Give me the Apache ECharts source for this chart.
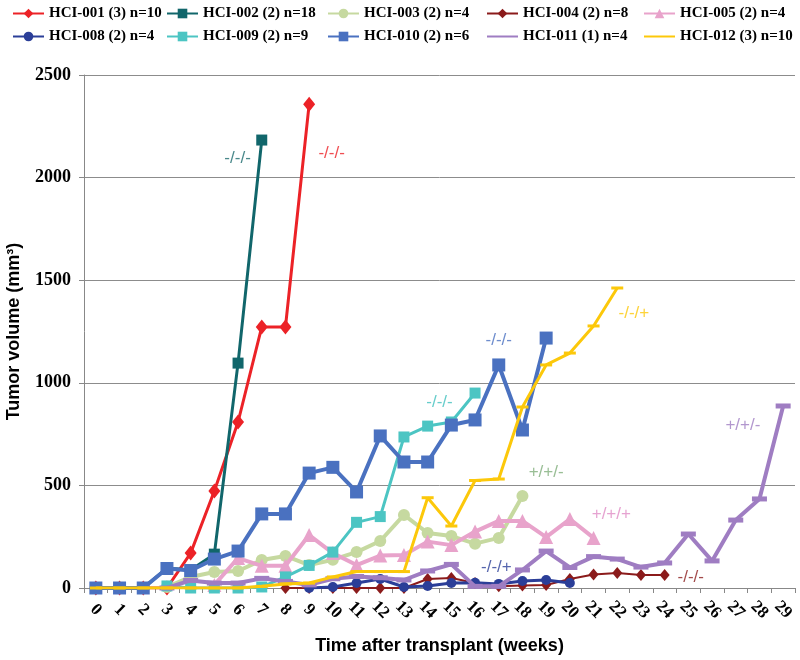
<!DOCTYPE html>
<html>
<head>
<meta charset="utf-8">
<script src="https://cdn.jsdelivr.net/npm/echarts@6/dist/echarts.min.js"></script>
<style>html,body{margin:0;padding:0;background:#fff}#c{width:800px;height:660px}</style>
</head>
<body>
<div id="c"></div>
<script>
var weeks = [];
for (var w = 0; w <= 29; w++) weeks.push(String(w));

var seriesNames = ['HCI-001 (3) n=10','HCI-002 (2) n=18','HCI-003 (2) n=4','HCI-004 (2) n=8','HCI-005 (2) n=4',
                   'HCI-008 (2) n=4','HCI-009 (2) n=9','HCI-010 (2) n=6','HCI-011 (1) n=4','HCI-012 (3) n=10'];

// values indexed by week (0..29), null = no measurement
var hci001 = [0,0,0,0,170,473,809,1272,1272,2358];
var hci002 = [0,0,0,97,88,165,1096,2183];
var hci003 = [null,null,null,5,54,78,83,136,156,112,138,175,229,356,268,253,216,244,448];
var hci004 = [null,null,null,null,null,null,null,null,0,0,0,0,0,0,44,49,24,8,12,15,44,66,73,63,63];
var hci005 = [null,null,null,null,null,15,146,108,108,258,170,112,158,161,226,209,275,327,327,248,336,244];
var hci008 = [null,null,null,null,null,null,null,null,null,0,5,24,44,5,10,24,26,20,34,39,24];
var hci009 = [null,null,null,10,0,0,0,5,54,110,175,320,348,736,789,809,950];
var hci010 = [0,0,0,95,85,141,180,361,361,560,588,468,741,614,614,794,819,1087,770,1218];
var hci011 = [null,null,null,0,37,24,24,47,32,15,45,56,50,39,83,115,8,8,88,180,100,153,141,102,122,263,132,331,434,887];
var hci012 = [0,0,0,0,0,0,0,8,20,24,54,80,80,80,440,302,524,531,882,1087,1145,1277,1462];

var seriesValues = [hci001,hci002,hci003,hci004,hci005,hci008,hci009,hci010,hci011,hci012];

var yTicks = [0,500,1000,1500,2000,2500];

// receptor-status annotations: text, week position, volume position
var annoTexts = ['-/-/-','-/-/-','-/-/-','-/-/-','+/+/-','+/+/+','-/-/+','-/-/-','-/-/+','+/+/-'];
var annoWeeks = [5.98, 9.95, 17.0, 14.5, 19.0, 21.75, 16.9, 25.1, 22.7, 27.3];
var annoVols  = [2095, 2120, 1208, 906, 565, 361, 102, 54, 1340, 794];

// styles
var colors = ['#ec2227','#11666b','#c6d9a0','#8b1b1b','#e8a3cb','#2b3e98','#4cc5c3','#4a71c0','#9f7dc2','#fcc80a'];
var symbols = ['diamond','rect','circle','diamond','triangle','circle','rect','rect','rect','rect'];
var symbolSizes = [[12,15],11,12,[10,12],14,10,11,13,[15,5],[12,3]];
var lineWidths = [3,3,4,2,4,3,3,4,4,3];
var hideLegendSymbol = [false,false,false,false,false,false,false,false,true,true];
var annoColors = ['#1d6b6e','#ec2227','#4a71c0','#40c0be','#7fae7a','#e08cc6','#2b3e98','#8b1b1b','#fcc80a','#9f7dc2'];

var series = seriesNames.map(function(n, i){
  return {
    name: n, type: 'line', xAxisIndex: 0, yAxisIndex: 0,
    data: seriesValues[i],
    symbol: symbols[i], symbolSize: symbolSizes[i], showAllSymbol: true,
    lineStyle: {color: colors[i], width: lineWidths[i]},
    itemStyle: {color: colors[i]},
    connectNulls: false, z: 2 + i
  };
});

series.push({
  type: 'scatter', xAxisIndex: 1, yAxisIndex: 0, symbolSize: 0, silent: true,
  data: annoTexts.map(function(t, i){
    return {value: [annoWeeks[i], annoVols[i]],
      label: {show: true, position: 'inside', formatter: t, color: annoColors[i],
              fontFamily: 'Liberation Sans', fontSize: 17}};
  }),
  z: 20
});

function legendItem(i){
  var it = {name: seriesNames[i]};
  if (hideLegendSymbol[i]) it.itemStyle = {opacity: 0};
  return it;
}

var legendLefts = [7, 161, 322, 481, 638];
var legends = legendLefts.map(function(l, c){
  return {
    orient: 'vertical', left: l, top: 1, itemGap: 8,
    itemWidth: 31, itemHeight: 12,
    data: [legendItem(c), legendItem(c+5)],
    textStyle: {fontFamily: 'Liberation Serif', fontWeight: 'bold', fontSize: 15, color: '#000'},
    selectedMode: false
  };
});

var chart = echarts.init(document.getElementById('c'));
chart.setOption({
  animation: false,
  backgroundColor: '#fff',
  legend: legends,
  grid: {left: 84, right: 5, top: 75, bottom: 72, containLabel: false, outerBoundsMode: 'none'},
  xAxis: [{
    type: 'category', data: weeks, boundaryGap: true,
    name: 'Time after transplant (weeks)', nameLocation: 'middle', nameGap: 49,
    nameTextStyle: {fontFamily: 'Liberation Sans', fontWeight: 'bold', fontSize: 18, color: '#000'},
    axisLine: {onZero: false, lineStyle: {color: '#888', width: 1}},
    axisTick: {show: true, interval: 0, length: 5, lineStyle: {color: '#888'}},
    axisLabel: {interval: 0, rotate: -45, align: 'center', verticalAlign: 'middle', margin: 22,
      fontFamily: 'Liberation Serif', fontWeight: 'bold', fontSize: 17, color: '#000'},
    splitLine: {show: false}
  },{
    type: 'value', min: -0.5, max: 29.5, show: false
  }],
  yAxis: [{
    type: 'value', min: yTicks[0], max: yTicks[yTicks.length-1], interval: 500,
    name: 'Tumor volume (mm³)', nameLocation: 'middle', nameGap: 61, nameRotate: 90,
    nameTextStyle: {fontFamily: 'Liberation Sans', fontWeight: 'bold', fontSize: 18, color: '#000'},
    axisLine: {show: true, onZero: false, lineStyle: {color: '#888', width: 1}},
    axisTick: {show: true, length: 5, lineStyle: {color: '#888'}},
    axisLabel: {margin: 13, formatter: function(v){ return String(v); },
      fontFamily: 'Liberation Serif', fontWeight: 'bold', fontSize: 18, color: '#000'},
    splitLine: {show: true, lineStyle: {color: '#8c8c8c', width: 1}}
  }],
  series: series
});
</script>
</body>
</html>
